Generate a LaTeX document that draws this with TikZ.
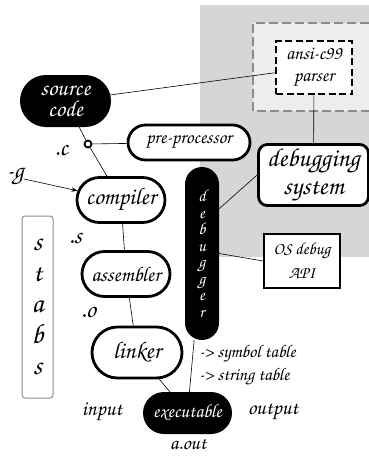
\documentclass[tikz,border=0pt]{standalone}
\usepackage[T1]{fontenc}
\usepackage{chancery}
\usetikzlibrary{shapes.misc,arrows.meta}
\tikzset{
  fnt/.style 2 args={font=\fontsize{#1}{#2}\selectfont},
  pill/.style={rounded rectangle,draw,line width=2.8pt,fill=white,inner sep=0pt,fnt={22}{22}},
  blackpill/.style={rounded rectangle,fill=black,text=white,inner sep=0pt,fnt={22}{22}},
  conn/.style={draw,line width=0.6pt},
  lbl/.style={inner sep=0pt,fnt={25}{25}}
}
\begin{document}
\begin{tikzpicture}[x=1pt,y=-1pt]
      \useasboundingbox (0,0) rectangle (369,456);
      \fill[black!16] (200,5) rectangle (369,257);
      \fill[black!7] (253,23) rectangle (369,111);
      \draw[black!45,line width=2.2pt,dash pattern=on 9pt off 4pt] (369,23) -- (253,23) -- (253,111) -- (369,111);

      \node[draw,line width=2.8pt,dash pattern=on 7pt off 3.5pt,fill=white,minimum width=76,minimum height=53,align=center,fnt={19}{22}] (parser) at (314,67.5) {ansi-c99\\parser};
      \node[blackpill,minimum width=91,minimum height=52,align=center,fnt={23}{21}] (src) at (65.5,101) {source\\code};
      \node[draw,circle,line width=1.8pt,fill=white,inner sep=0pt,minimum size=7] (dotc) at (88,144) {};
      \node[pill,minimum width=122,minimum height=35,fnt={19}{19}] (pre) at (189,142.5) {pre-processor};
      \node[draw,rounded corners=9,line width=2.8pt,fill=white,minimum width=110,minimum height=60,align=center,fnt={26}{28}] (dsys) at (313.5,175) {debugging\\system};
      \node[pill,minimum width=88,minimum height=45,fnt={24}{24}] (comp) at (121,200) {compiler};
      \node[fill=black,text=white,rounded corners=17,minimum width=34,minimum height=173,align=center,fnt={17}{16.5}] (dbgr) at (202,253.5) {d\\e\\b\\u\\g\\g\\e\\r};
      \node[draw,line width=2pt,fill=white,minimum width=76,minimum height=54,align=center,fnt={17}{24}] (os) at (302,261) {OS debug\\API};
      \node[draw,black!45,line width=1pt,rounded corners=3,minimum width=31,minimum height=182,align=center,text=black,fnt={28}{31}] (stabs) at (37.5,307) {s\\t\\a\\b\\s};
      \node[pill,minimum width=88,minimum height=45,fnt={21}{21}] (asm) at (126,274) {assembler};
      \node[pill,minimum width=90,minimum height=51,fnt={24}{24}] (link) at (137,352.5) {linker};
      \node[blackpill,minimum width=89,minimum height=42,fnt={19}{19}] (exe) at (187.5,413) {executable};

      \node[lbl] (g) at (15,177) {-g};
      \node[lbl] (c) at (61,150) {.c};
      \node[lbl] (s) at (75,238) {.s};
      \node[lbl] (o) at (88,312) {.o};
      \node[lbl,anchor=west,fnt={18}{18}] (sym) at (199,354) {-> symbol table};
      \node[lbl,anchor=west,fnt={18}{18}] (str) at (199,377) {-> string table};
      \node[lbl,fnt={21}{21}] (in) at (102,412) {input};
      \node[lbl,fnt={21}{21}] (out) at (273,412) {output};
      \node[lbl,fnt={20}{20}] (aout) at (188,444) {a.out};

      \draw[conn] (src) -- (parser);
      \draw[conn] (src) -- (dotc) -- (comp);
      \draw[conn] (dotc) -- (pre);
      \draw[conn] (parser) -- (dsys);
      \draw[conn] (dbgr.69) -- (dsys.west);
      \draw[conn] (dbgr.east) -- (os.west);
      \draw[conn,-{Stealth[length=6pt]}] (g) -- (comp.168);
      \draw[conn] (comp) -- (asm);
      \draw[conn] (asm) -- (link);
      \draw[conn] (link) -- (exe);
      \draw[conn] (dbgr) -- (exe);
\end{tikzpicture}
\end{document}
